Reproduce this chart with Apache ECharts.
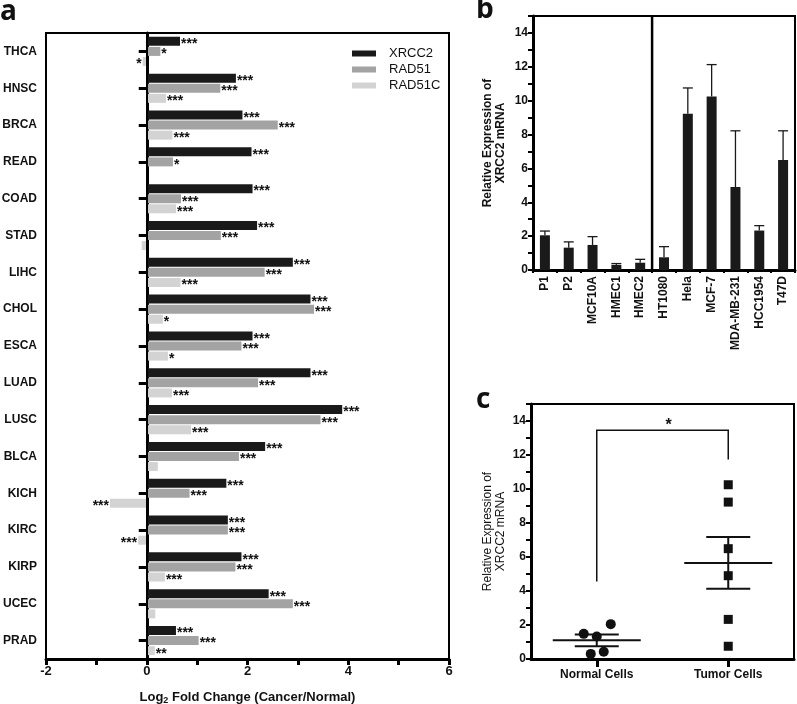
<!DOCTYPE html>
<html><head><meta charset="utf-8">
<script src="https://cdn.jsdelivr.net/npm/echarts@6/dist/echarts.min.js"></script>
<style>html,body{margin:0;padding:0;background:#fff}#chart{width:797px;height:704px}</style>
</head><body><div id="chart"></div>
<script>
// ---------- Panel a data ----------
const cancerTypes = ['THCA','HNSC','BRCA','READ','COAD','STAD','LIHC','CHOL','ESCA','LUAD','LUSC','BLCA','KICH','KIRC','KIRP','UCEC','PRAD'];
const seriesNames = ['XRCC2','RAD51','RAD51C'];
const xrcc2FC  = [0.66,1.77,1.90,2.08,2.10,2.19,2.90,3.25,2.10,3.25,3.88,2.35,1.58,1.61,1.88,2.42,0.58];
const rad51FC  = [0.27,1.46,2.60,0.52,0.68,1.47,2.34,3.32,1.88,2.21,3.45,1.83,0.85,1.61,1.76,2.90,1.03];
const rad51cFC = [-0.08,0.38,0.51,null,0.58,-0.10,0.67,0.32,0.42,0.50,0.88,0.22,-0.73,-0.17,0.36,0.17,0.16];
const xrcc2Sig  = ['***','***','***','***','***','***','***','***','***','***','***','***','***','***','***','***','***'];
const rad51Sig  = ['*','***','***','*','***','***','***','***','***','***','***','***','***','***','***','***','***'];
const rad51cSig = ['*','***','***','','***','','***','*','*','***','***','','***','***','***','','**'];
const aTickLabels = [-2,0,2,4,6];

// ---------- Panel b data ----------
const cellLines = ['P1','P2','MCF10A','HMEC1','HMEC2','HT1080','Hela','MCF-7','MDA-MB-231','HCC1954','T47D'];
const normalCount = 5;
const relExpr    = [2.05,1.32,1.48,0.30,0.43,0.75,9.23,10.25,4.90,2.33,6.49];
const relExprErr = [0.25,0.34,0.49,0.08,0.20,0.63,1.52,1.88,3.32,0.29,1.73];
const bcTickLabels = [0,2,4,6,8,10,12,14];

// ---------- Panel c data ----------
const groups = ['Normal Cells','Tumor Cells'];
const normalVals = relExpr.slice(0, normalCount);
const tumorVals = relExpr.slice(normalCount);
const groupMean = [1.11, 5.65];
const groupSemLow = [0.75, 4.13];
const groupSemHigh = [1.44, 7.17];
const bracketY = 13.45, bracketLeftEnd = 4.56, bracketRightEnd = 11.73, bracketSig = '*';

// ---------- styles / layout ----------
const FONT = 'Liberation Sans, Arial, sans-serif';
const colors = ['#1a1a1a','#a3a3a3','#d3d3d3'];
const normalJitterPx = [14, 0, -13, -6, 7];
const BLACK = '#000';

const chart = echarts.init(document.getElementById('chart'), null, {renderer:'canvas'});

function barData(vals, sig){
  return vals.map((v,i)=> v==null ? '-' : ({value:v, label:{position: v<0?'left':'right', formatter: sig[i] || ''}}));
}
const starLabel = {show:true, color:'#111', fontFamily:FONT, fontWeight:'bold', fontSize:14, distance:1, offset:[0,3]};

function valAxisCommon(){
  return {
    axisLine:{show:true, onZero:false, lineStyle:{color:BLACK, width:3}},
    axisTick:{show:true, length:5, lineStyle:{color:BLACK, width:2}},
    splitLine:{show:false}
  };
}

const option = {
  animation:false,
  backgroundColor:'#fff',
  textStyle:{fontFamily:FONT},
  graphic:[
    {type:'text', left:0, top:-2, style:{text:'a', font:'bold 28px "Open Sans", sans-serif', fill:'#111'}},
    {type:'text', left:476, top:-4, style:{text:'b', font:'bold 28px "Open Sans", sans-serif', fill:'#111'}},
    {type:'text', left:476, top:386, style:{text:'c', font:'bold 28px "Open Sans", sans-serif', fill:'#111'}}
  ],
  legend:{
    data:seriesNames, orient:'vertical', left:352, top:47, padding:0, itemWidth:24, itemHeight:6, itemGap:3, icon:'rect',
    textStyle:{fontFamily:FONT, fontSize:13, color:'#111'},
    formatter:'{t|{name}}'
  },
  grid:[
    {left:46, top:33, width:403, height:626, show:true, borderColor:BLACK, borderWidth:2, containLabel:false, outerBoundsMode:'none'},
    {left:533, top:16, width:262, height:254, show:true, borderColor:BLACK, borderWidth:2, containLabel:false, outerBoundsMode:'none'},
    {left:531, top:404, width:263, height:255, show:true, borderColor:BLACK, borderWidth:2, containLabel:false, outerBoundsMode:'none'}
  ],
  xAxis:[
    Object.assign(valAxisCommon(), {
      type:'value', gridIndex:0, min:-2, max:6, interval:1,
      axisTick:{show:true, length:6, lineStyle:{color:BLACK, width:3}},
      axisLabel:{color:'#111', fontFamily:FONT, fontWeight:'bold', fontSize:13, margin:6,
        formatter:v=> aTickLabels.includes(v) ? String(v) : ''},
      name:'{n|Log}{s|2}{n| Fold Change (Cancer/Normal)}', nameLocation:'middle', nameGap:31,
      nameTextStyle:{rich:{
        n:{fontFamily:FONT, fontWeight:'bold', fontSize:13, color:'#111'},
        s:{fontFamily:FONT, fontWeight:'bold', fontSize:9, color:'#111', verticalAlign:'bottom', padding:[6,0,0,0]}
      }}
    }),
    {
      type:'category', gridIndex:1, data:cellLines,
      axisLine:{show:true, lineStyle:{color:BLACK, width:3}},
      axisTick:{show:true, length:3, interval:0, lineStyle:{color:BLACK, width:2}},
      axisLabel:{interval:0, rotate:90, color:'#111', fontFamily:FONT, fontWeight:'bold', fontSize:12, margin:6},
      splitLine:{show:false}
    },
    {
      type:'category', gridIndex:2, data:groups,
      axisLine:{show:true, lineStyle:{color:BLACK, width:3}},
      axisTick:{show:true, alignWithLabel:true, length:8, lineStyle:{color:BLACK, width:3}},
      axisLabel:{color:'#111', fontFamily:FONT, fontWeight:'bold', fontSize:12, margin:10},
      splitLine:{show:false}
    }
  ],
  yAxis:[
    {
      type:'category', gridIndex:0, data:cancerTypes, inverse:true,
      axisLine:{show:true, lineStyle:{color:BLACK, width:3}},
      axisTick:{show:true, alignWithLabel:true, length:8, lineStyle:{color:BLACK, width:3}},
      axisLabel:{color:'#111', fontFamily:FONT, fontWeight:'bold', fontSize:12, margin:9},
      splitLine:{show:false}
    },
    Object.assign(valAxisCommon(), {
      type:'value', gridIndex:1, min:0, max:15, interval:1,
      axisLabel:{color:'#111', fontFamily:FONT, fontWeight:'bold', fontSize:12, margin:5,
        formatter:v=> bcTickLabels.includes(v) ? String(v) : ''},
      name:'Relative Expression of\nXRCC2 mRNA', nameLocation:'middle', nameGap:26, nameRotate:90,
      nameTextStyle:{fontFamily:FONT, fontWeight:'bold', fontSize:12, color:'#111', lineHeight:13}
    }),
    Object.assign(valAxisCommon(), {
      type:'value', gridIndex:2, min:0, max:15, interval:1,
      axisLabel:{color:'#111', fontFamily:FONT, fontWeight:'bold', fontSize:12, margin:5,
        formatter:v=> bcTickLabels.includes(v) ? String(v) : ''},
      name:'Relative Expression of\nXRCC2 mRNA', nameLocation:'middle', nameGap:24, nameRotate:90,
      nameTextStyle:{fontFamily:FONT, fontWeight:'normal', fontSize:12, color:'#111', lineHeight:13}
    })
  ],
  series:[
    {name:seriesNames[0], type:'bar', xAxisIndex:0, yAxisIndex:0, barWidth:9, barGap:'12%',
      itemStyle:{color:colors[0]}, label:starLabel, data:barData(xrcc2FC, xrcc2Sig),
      markLine:{silent:true, symbol:['none','none'], label:{show:false}, lineStyle:{color:BLACK, width:2, type:'solid'},
        data:[{xAxis:0}], z:10}},
    {name:seriesNames[1], type:'bar', xAxisIndex:0, yAxisIndex:0, barWidth:9, barGap:'12%',
      itemStyle:{color:colors[1]}, label:starLabel, data:barData(rad51FC, rad51Sig)},
    {name:seriesNames[2], type:'bar', xAxisIndex:0, yAxisIndex:0, barWidth:9, barGap:'12%',
      itemStyle:{color:colors[2]}, label:starLabel, data:barData(rad51cFC, rad51cSig)},

    // panel b bars
    {type:'bar', xAxisIndex:1, yAxisIndex:1, barWidth:10, itemStyle:{color:'#1a1a1a'}, data:relExpr, z:3},
    // panel b error bars
    {type:'custom', xAxisIndex:1, yAxisIndex:1, z:2,
      data:relExpr.map((v,i)=>[i, v, relExprErr[i]]),
      renderItem:(params, api)=>{
        const i=api.value(0), v=api.value(1), e=api.value(2);
        const b=api.coord([i,v]), t=api.coord([i,v+e]);
        const st={stroke:'#1a1a1a', lineWidth:1.3};
        return {type:'group', children:[
          {type:'line', shape:{x1:b[0],y1:b[1],x2:t[0],y2:t[1]}, style:st},
          {type:'line', shape:{x1:t[0]-5,y1:t[1],x2:t[0]+5,y2:t[1]}, style:st}
        ]};
      }},
    // panel b divider between normal and tumor lines
    {type:'custom', xAxisIndex:1, yAxisIndex:1, z:4, data:[[normalCount-1, 0]],
      renderItem:(params, api)=>{
        const a=api.coord([normalCount-1, 0]), b=api.coord([normalCount, 15]);
        const x=(a[0]+b[0])/2;
        return {type:'line', shape:{x1:x,y1:a[1],x2:x,y2:b[1]}, style:{stroke:BLACK, lineWidth:2.5}};
      }},

    // panel c scatter
    {type:'scatter', xAxisIndex:2, yAxisIndex:2, symbol:'circle', symbolSize:10, itemStyle:{color:'#111', opacity:1}, z:3,
      data:normalVals.map((v,i)=>({value:[0,v], symbolOffset:[normalJitterPx[i],0]}))},
    {type:'scatter', xAxisIndex:2, yAxisIndex:2, symbol:'rect', symbolSize:9, itemStyle:{color:'#111', opacity:1}, z:3,
      data:tumorVals.map(v=>[1,v])},
    // mean +/- SEM
    {type:'custom', xAxisIndex:2, yAxisIndex:2, z:4,
      data:groups.map((g,i)=>[i, groupMean[i], groupSemLow[i], groupSemHigh[i]]),
      renderItem:(params, api)=>{
        const i=api.value(0);
        const m=api.coord([i, api.value(1)]), lo=api.coord([i, api.value(2)]), hi=api.coord([i, api.value(3)]);
        const st={stroke:'#111', lineWidth:2};
        return {type:'group', children:[
          {type:'line', shape:{x1:m[0]-44,y1:m[1],x2:m[0]+44,y2:m[1]}, style:st},
          {type:'line', shape:{x1:m[0]-22,y1:lo[1],x2:m[0]+22,y2:lo[1]}, style:st},
          {type:'line', shape:{x1:m[0]-22,y1:hi[1],x2:m[0]+22,y2:hi[1]}, style:st},
          {type:'line', shape:{x1:m[0],y1:lo[1],x2:m[0],y2:hi[1]}, style:st}
        ]};
      }},
    // significance bracket
    {type:'custom', xAxisIndex:2, yAxisIndex:2, z:4, data:[[0, bracketY]],
      renderItem:(params, api)=>{
        const p1=api.coord([0,bracketLeftEnd]), p2=api.coord([0,bracketY]), p3=api.coord([1,bracketY]), p4=api.coord([1,bracketRightEnd]);
        return {type:'group', children:[
          {type:'polyline', shape:{points:[p1,p2,p3,p4]}, style:{stroke:'#111', lineWidth:1.5, fill:null}},
          {type:'text', x:(p2[0]+p3[0])/2+6, y:p2[1]+3, style:{text:bracketSig, font:'bold 16px '+FONT, fill:'#111', align:'center', verticalAlign:'bottom'}}
        ]};
      }}
  ]
};
option.legend.textStyle.rich = {t:{fontFamily:FONT, fontSize:13, color:'#111', padding:[0,0,0,8]}};
chart.setOption(option);
</script></body></html>
